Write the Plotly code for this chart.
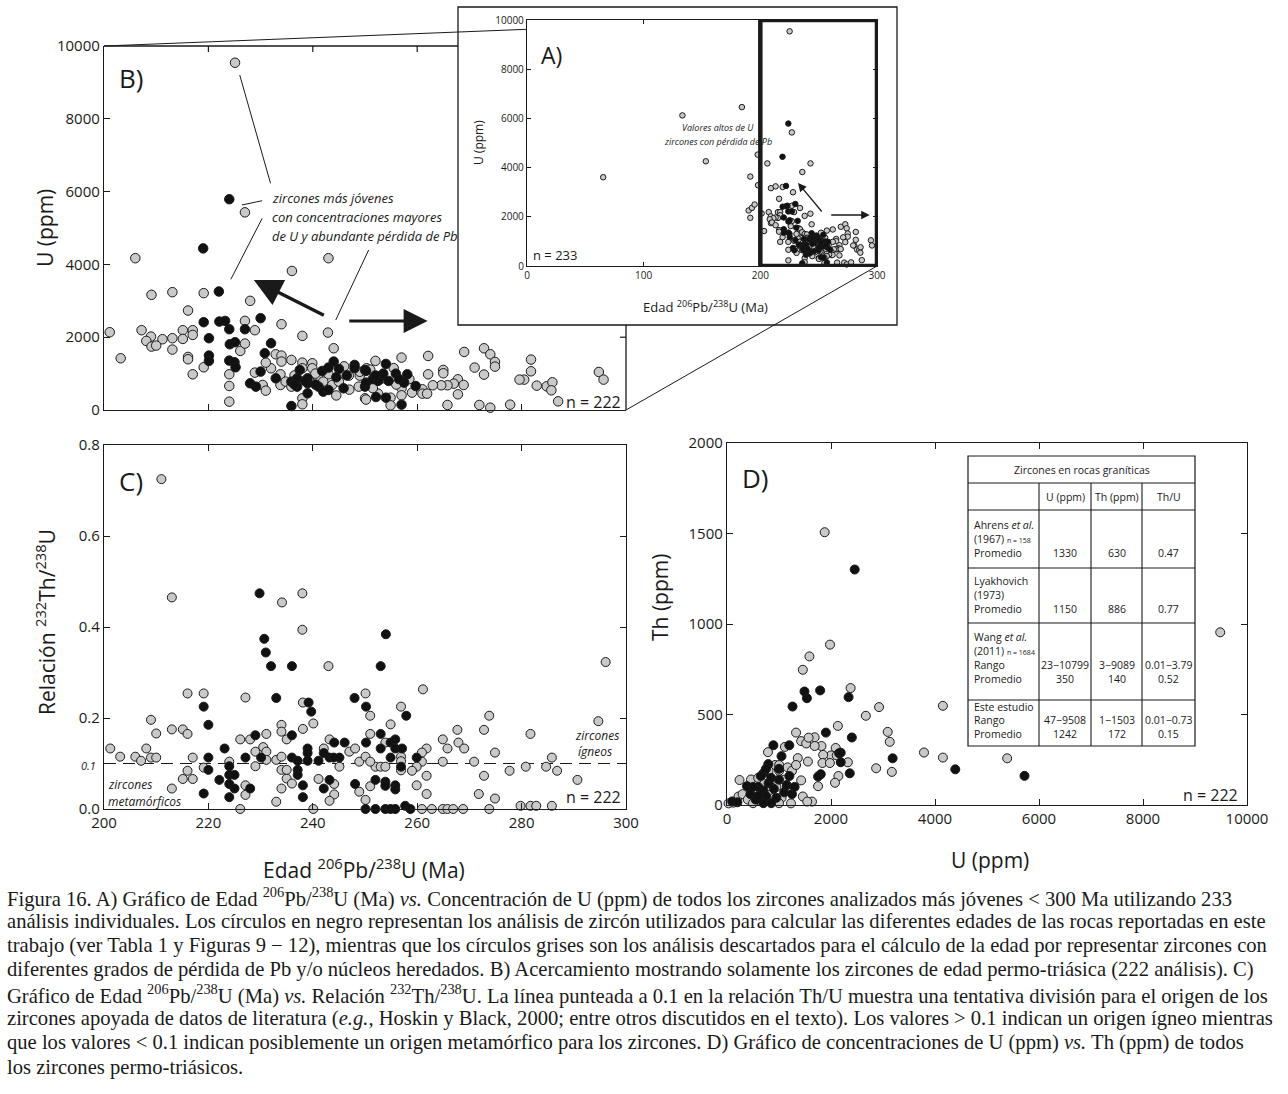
import plotly.graph_objects as go

W, H = 1288, 1094
def px(x): return x / W
def py(y): return 1 - y / H

# ---------------- DATA ----------------
# Panel B (and A): Edad 206Pb/238U (Ma) vs U (ppm)
b_gray_age = [225.1, 227.0, 206.0, 243.0, 236.0,
              209.1, 213.1, 219.1, 228.0, 216.1,
              201.1, 207.2, 215.1, 217.0, 217.0,
              215.1, 213.1, 209.0, 211.2, 208.1,
              209.1, 210.0, 213.1, 203.2, 216.1,
              216.1, 217.0, 219.1, 227.0, 228.9,
              234.0, 238.0, 242.9, 244.0, 226.1,
              227.0, 224.0, 224.0, 224.0, 232.9,
              234.0, 232.0, 234.0, 235.9, 238.0,
              239.9, 239.9, 238.0, 233.8, 228.9,
              231.0, 230.4, 231.0, 233.8, 234.8,
              235.9, 238.0, 238.0, 241.0, 243.0,
              243.7, 245.0, 246.9, 248.8, 249.0,
              250.0, 250.3,
              257.0, 262.1, 269.0, 272.8, 274.0,
              274.9, 274.9, 271.0, 272.8, 265.0,
              265.0, 262.1, 267.8, 267.0, 265.8,
              264.6, 263.0, 268.9, 267.8, 261.0,
              261.0, 261.9, 259.0, 257.0, 257.0,
              254.9, 254.9, 265.8, 271.9, 274.0,
              277.8, 281.8, 281.8, 280.5, 279.6,
              282.9, 284.8, 285.9, 285.7, 287.0,
              294.8, 295.7, 251.0, 250.2,
              247.0, 253.0, 255.5, 256.0, 252.5, 249.0, 246.0, 251.5, 244.5, 236.5,
              240.5, 242.0, 252.0, 258.5]
b_gray_u = [9540, 5430, 4170, 4170, 3820,
            3164, 3237, 3210, 2999, 2733,
            2137, 2192, 2192, 2192, 2063,
            1953, 1972, 2017, 1944, 1898,
            1742, 1770, 1660, 1421, 1458,
            1394, 981, 1174, 2448, 2192,
            2357, 2036, 2127, 1696, 1623,
            1825, 981, 660, 229, 1531,
            1495, 1146, 1330, 1375, 1302,
            1284, 1146, 1146, 981, 1027,
            1302, 688, 532, 688, 779,
            642, 321, 156, 889, 981,
            688, 779, 944, 642, 944,
            321, 1146,
            1440, 1485, 1595, 1696, 1531,
            1320, 1192, 1165, 972, 1100,
            1009, 981, 843, 724, 679,
            679, 679, 688, 431, 568,
            449, 449, 477, 596, 403,
            339, 128, 138, 138, 64,
            147, 1385, 1064, 835, 835,
            669, 651, 761, 541, 238,
            1045, 835, 1110, 286,
            560, 850, 1150, 700, 450, 1050, 1200, 600, 400, 950,
            1000, 780, 1350, 850]
b_black_age = [224.0, 219.0, 222.0,
               219.1, 222.1, 223.2, 224.0, 227.0,
               230.0, 220.1, 224.1, 225.1, 220.1,
               220.1, 224.0, 225.0, 225.2, 232.0,
               230.8, 230.0, 228.0, 229.1, 232.9,
               235.9, 237.0, 239.0, 237.5, 239.0,
               239.0, 237.0, 241.1, 241.8, 243.0,
               244.0, 245.0, 242.0, 243.0, 245.9,
               248.0, 248.0, 250.0, 250.0, 235.9,
               254.0, 253.0, 255.9, 258.1, 257.5,
               259.7, 252.1, 254.0, 257.0, 250.2,
               250.2,
               251.5, 252.5, 253.5, 254.5, 256.5, 252.0, 238.5, 240.5, 236.5, 246.5, 244.5]
b_black_u = [5790, 4440, 3255,
             2412, 2430, 2448, 2219, 2219,
             2522, 1972, 1806, 1862, 1495,
             1348, 1357, 1311, 1174, 1834,
             1559, 1055, 734, 642, 871,
             779, 871, 871, 1100, 734,
             459, 642, 642, 1073, 1165,
             1330, 1128, 504, 550, 596,
             1238, 1146, 1100, 642, 110,
             1266, 926, 999, 981, 752,
             660, 357, 339, 147, 1073,
             752,
             850, 800, 1000, 800, 850, 950, 800, 700, 700, 950, 900]

# Panel A: extra analyses (< 200 Ma) shown only in A
a_extra_age = [65.3, 133.2, 153.3, 184.2, 191.4, 190.0, 191.4, 192.8, 195.1, 198.0, 197.7]
a_extra_u = [3608, 6122, 4257, 6459, 3635, 2257, 1959, 2365, 2500, 3284, 4527]

# Panel C: Edad vs relacion 232Th/238U
c_gray_age = [211.0, 213.0, 238.0, 234.1, 238.0, 243.0, 296.1, 261.1,
              201.2, 203.1, 206.0, 207.1, 208.1, 209.0, 209.0, 210.0, 210.0, 213.0,
              215.1, 216.0, 216.0, 219.1, 217.0, 216.0, 215.1, 217.0, 213.0, 219.1,
              224.0, 226.1, 227.1, 228.0, 226.1, 227.1, 227.1, 229.0, 229.0, 230.5,
              231.1, 231.1, 231.1, 233.0, 234.0, 234.0, 234.0, 235.0, 234.0, 235.0,
              235.0, 236.0, 234.0, 233.0, 238.1, 238.1, 240.1, 240.1, 241.1, 243.2,
              242.1, 245.1, 244.1, 244.1, 243.2, 247.0, 248.1, 248.9, 248.9,
              250.1, 256.9, 251.0, 254.9, 251.0, 253.9, 250.1, 252.0, 253.0, 253.9,
              251.0, 256.9, 261.8, 260.9, 260.9, 259.9, 259.0, 261.8, 259.9, 261.8,
              264.9, 265.8, 264.9, 267.7, 267.9, 269.0, 270.9, 272.8, 273.8, 272.8,
              274.9, 271.8, 274.9, 277.7, 280.8, 281.7, 284.7, 285.8, 286.8, 290.7,
              294.7, 279.8, 281.7, 282.8, 285.8, 260.9, 262.8, 264.9, 265.8, 266.9,
              268.8, 273.8, 250.1, 251.0, 256.9, 256.9]
c_gray_ratio = [0.725, 0.465, 0.474, 0.454, 0.394, 0.314, 0.323, 0.263,
                0.133, 0.115, 0.115, 0.106, 0.133, 0.113, 0.196, 0.113, 0.166, 0.175,
                0.175, 0.165, 0.254, 0.254, 0.113, 0.084, 0.066, 0.066, 0.045, 0.091,
                0.104, 0.153, 0.245, 0.153, 0.0, 0.052, 0.031, 0.094, 0.126, 0.136,
                0.126, 0.165, 0.108, 0.108, 0.115, 0.185, 0.170, 0.153, 0.086, 0.067,
                0.086, 0.056, 0.045, 0.016, 0.234, 0.176, 0.188, 0.0, 0.066, 0.153,
                0.133, 0.093, 0.055, 0.032, 0.018, 0.126, 0.133, 0.104, 0.038,
                0.254, 0.225, 0.205, 0.186, 0.165, 0.146, 0.115, 0.093, 0.093, 0.093,
                0.104, 0.115, 0.133, 0.124, 0.104, 0.093, 0.084, 0.073, 0.052, 0.033,
                0.153, 0.133, 0.104, 0.174, 0.146, 0.133, 0.104, 0.174, 0.205, 0.073,
                0.124, 0.033, 0.023, 0.084, 0.093, 0.165, 0.093, 0.113, 0.084, 0.064,
                0.193, 0.007, 0.007, 0.007, 0.007, 0.0, 0.0, 0.0, 0.0, 0.0,
                0.0, 0.0, 0.02, 0.05, 0.105, 0.085]
c_black_age = [229.8, 230.7, 231.0, 232.0, 236.0, 254.0, 253.0, 233.0, 248.0,
               239.2, 239.7, 219.1, 220.0, 223.1, 220.0, 220.0, 222.1, 224.0, 224.0,
               225.0, 224.0, 225.0, 224.0, 219.1, 227.1, 228.0, 229.0, 230.1, 236.0,
               236.0, 237.1, 237.1, 237.1, 238.1, 238.1, 239.0, 239.0, 239.0, 241.1,
               242.1, 243.2, 244.1, 245.1, 246.1, 243.2, 242.1, 250.2, 250.2, 248.1,
               257.9, 253.0, 253.0, 254.9, 255.8, 255.8, 257.1, 254.9, 256.9, 259.9,
               252.0, 253.9, 253.9, 255.8, 255.8, 250.1, 252.0, 253.9, 254.9, 255.8,
               257.7, 258.7, 244.0]
c_black_ratio = [0.474, 0.374, 0.344, 0.314, 0.314, 0.384, 0.314, 0.244, 0.244,
                 0.234, 0.214, 0.225, 0.185, 0.133, 0.113, 0.086, 0.064, 0.094, 0.075,
                 0.075, 0.055, 0.045, 0.026, 0.034, 0.113, 0.045, 0.162, 0.113, 0.162,
                 0.113, 0.106, 0.086, 0.075, 0.052, 0.026, 0.133, 0.123, 0.106, 0.106,
                 0.123, 0.113, 0.146, 0.113, 0.146, 0.064, 0.045, 0.225, 0.146, 0.055,
                 0.205, 0.165, 0.133, 0.146, 0.153, 0.133, 0.133, 0.113, 0.093, 0.113,
                 0.064, 0.060, 0.051, 0.052, 0.043, 0.0, 0.0, 0.0, 0.0, 0.0,
                 0.007, 0.0, 0.113]

# Panel D: U (ppm) vs Th (ppm)
d_gray_u = [1878, 1981, 1585, 1458, 2377, 2924, 2670, 2132, 3090, 3130,
            3788, 4152, 4152, 5388, 2868, 3170, 9485, 1328, 1426, 1523,
            1686, 1816, 1686, 1569, 2090, 1999, 2110, 2324, 1849, 1836,
            1979, 2142, 2077, 1751, 1361, 1556, 1113, 788, 924, 1003,
            1165, 1250, 1426, 1458, 1634, 1543, 1230, 241, 462, 221,
            30, 124, 1328, 1003, 300, 400, 550, 650, 700, 850,
            950, 1050, 1100, 600, 800, 900, 1150, 500, 750, 1000]
d_gray_th = [1507, 886, 821, 747, 646, 541, 493, 437, 404, 349,
             290, 262, 548, 258, 203, 183, 954, 400, 353, 340,
             374, 326, 326, 372, 315, 274, 274, 236, 277, 232,
             232, 160, 123, 104, 259, 240, 321, 292, 221, 221,
             208, 189, 136, 47, 19, 19, 9, 138, 141, 47,
             9, 13, 221, 189, 60, 30, 80, 20, 120, 60,
             100, 40, 140, 150, 190, 40, 90, 10, 30, 10]
d_black_u = [2456, 1490, 1537, 1791, 2338, 1260, 1902, 2401, 3185, 4390,
             5721, 2155, 2361, 2187, 2187, 1803, 1751, 892, 1198, 1048,
             794, 384, 710, 100, 200, 450, 550, 600, 650, 700,
             750, 800, 850, 900, 950, 1000, 1100, 1150, 1200, 1250,
             700, 850, 600, 1000, 1300, 500, 750]
d_black_th = [1301, 627, 590, 633, 596, 544, 400, 373, 258, 197,
              161, 286, 175, 289, 236, 170, 157, 330, 330, 270,
              226, 104, 179, 20, 15, 60, 30, 100, 160, 80,
              50, 120, 150, 90, 40, 140, 70, 110, 160, 60,
              10, 10, 50, 200, 100, 100, 200]

# Table inset (panel D)
table_cols = ["U (ppm)", "Th (ppm)", "Th/U"]

# tick labels
u_ticks = [0, 2000, 4000, 6000, 8000, 10000]
u_ticktext = ["0", "2000", "4000", "6000", "8000", "10000"]

# ---------------- FIGURE ----------------
INK = "#1a1a1a"
GRAY = "#c9c9c9"
FONT = "Open Sans"

fig = go.Figure()

def mk(size, fill):
    return dict(size=size, color=fill, line=dict(color=INK, width=1))

def scatter(x, y, xa, ya, size, fill):
    fig.add_trace(go.Scatter(x=x, y=y, mode="markers", marker=mk(size, fill),
                             xaxis=xa, yaxis=ya, cliponaxis=False, hoverinfo="skip"))

# B
scatter(b_gray_age, b_gray_u, "x", "y", 9.5, GRAY)
scatter(b_black_age, b_black_u, "x", "y", 9.5, "#111111")
# C
scatter(c_gray_age, c_gray_ratio, "x3", "y3", 9, GRAY)
scatter(c_black_age, c_black_ratio, "x3", "y3", 9, "#111111")
# D
scatter(d_gray_u, d_gray_th, "x4", "y4", 9, GRAY)
scatter(d_black_u, d_black_th, "x4", "y4", 9, "#111111")
# A
scatter(a_extra_age + b_gray_age, a_extra_u + b_gray_u, "x5", "y5", 5.5, GRAY)
scatter(b_black_age, b_black_u, "x5", "y5", 5.5, "#111111")

ax_common = dict(showline=True, linecolor=INK, linewidth=1.3, ticks="inside", ticklen=6,
                 tickwidth=1.2, tickcolor=INK, showgrid=False, zeroline=False, automargin=False,
                 tickfont=dict(size=15, family=FONT, color=INK))

fig.update_layout(
    width=W, height=H, margin=dict(l=0, r=0, t=0, b=0, pad=0, autoexpand=False),
    paper_bgcolor="white", plot_bgcolor="rgba(0,0,0,0)", showlegend=False,
    font=dict(family=FONT, color=INK),
    xaxis=dict(ax_common, domain=[px(104), px(626)], range=[200, 300], anchor="y",
               tickvals=[220, 240, 260, 280], showticklabels=False),
    yaxis=dict(ax_common, domain=[py(410), py(46)], range=[0, 10000], anchor="x",
               tickvals=u_ticks, ticktext=u_ticktext),
    xaxis3=dict(ax_common, domain=[px(104), px(626)], range=[200, 300], anchor="y3",
                tickvals=[200, 220, 240, 260, 280, 300], mirror="ticks"),
    yaxis3=dict(ax_common, domain=[py(809), py(445)], range=[0, 0.8], anchor="x3",
                tickvals=[0, 0.2, 0.4, 0.6, 0.8], ticktext=["0.0", "0.2", "0.4", "0.6", "0.8"],
                mirror="ticks"),
    xaxis4=dict(ax_common, domain=[px(727), px(1247)], range=[0, 10000], anchor="y4",
                tickvals=u_ticks, ticktext=u_ticktext, mirror="ticks"),
    yaxis4=dict(ax_common, domain=[py(805), py(443)], range=[0, 2000], anchor="x4",
                tickvals=[0, 500, 1000, 1500, 2000], mirror="ticks"),
    xaxis5=dict(ax_common, domain=[px(527), px(877)], range=[0, 300], anchor="y5",
                tickvals=[0, 100, 200, 300], ticklen=4, mirror="ticks",
                tickfont=dict(size=10, family=FONT, color=INK)),
    yaxis5=dict(ax_common, domain=[py(266), py(20)], range=[0, 10000], anchor="x5",
                tickvals=u_ticks, ticktext=u_ticktext, ticklen=4, mirror="ticks",
                tickfont=dict(size=10, family=FONT, color=INK)),
)

shapes = []
def pline(x0, y0, x1, y1, w=1.2, dash=None):
    shapes.append(dict(type="line", xref="paper", yref="paper", x0=px(x0), y0=py(y0),
                       x1=px(x1), y1=py(y1), line=dict(color=INK, width=w, dash=dash)))

# B frame top/right (partly hidden behind A)
pline(104, 46, 458, 46, 1.3)
pline(626, 325, 626, 410, 1.3)
for t in [220, 240, 260]:
    shapes.append(dict(type="line", xref="x", yref="paper", x0=t, x1=t, y0=py(46), y1=py(52),
                       line=dict(color=INK, width=1.2)))
shapes.append(dict(type="line", xref="paper", yref="y", x0=px(626), x1=px(620), y0=2000, y1=2000,
                   line=dict(color=INK, width=1.2)))
# A box
shapes.append(dict(type="rect", xref="paper", yref="paper", x0=px(458), x1=px(897), y0=py(325), y1=py(7),
                   line=dict(color=INK, width=1.3)))
# connectors
pline(104, 46, 527, 29.3, 1.0)
pline(626, 410, 877, 266, 1.0)
# thick zoom rectangle in A
shapes.append(dict(type="rect", xref="x5", yref="y5", x0=200, x1=300, y0=0, y1=10000,
                   line=dict(color=INK, width=4.5), layer="above"))
# leader lines B
for (x0, y0, x1, y1) in [(226.0, 9203, 231.9, 6228), (226.4, 5632, 230.3, 5750),
                         (230.3, 5266, 224.3, 3591), (250.7, 4396, 244.4, 2473)]:
    shapes.append(dict(type="line", xref="x", yref="y", x0=x0, y0=y0, x1=x1, y1=y1,
                       line=dict(color=INK, width=1)))
# dashed 0.1 line C
shapes.append(dict(type="line", xref="x3", yref="y3", x0=200, x1=300, y0=0.1, y1=0.1,
                   line=dict(color=INK, width=1.2, dash="12px,7px"), layer="below"))
# table lines
TL, TR, TT, TB = 968, 1195, 456, 746
shapes.append(dict(type="rect", xref="paper", yref="paper", x0=px(TL), x1=px(TR), y0=py(TB), y1=py(TT),
                   line=dict(color=INK, width=1.2), fillcolor="white", layer="below"))
for yy in [483, 510, 568, 623, 700]:
    pline(TL, yy, TR, yy, 1.1)
for xx in [1039, 1091, 1142]:
    pline(xx, 483, xx, TB, 1.1)
fig.update_layout(shapes=shapes)

ann = []
def txt(x, y, s, size, xanchor="center", angle=0, family=FONT, yanchor="middle"):
    ann.append(dict(x=px(x), y=py(y), xref="paper", yref="paper", text=s, showarrow=False,
                    xanchor=xanchor, yanchor=yanchor, textangle=angle,
                    font=dict(size=size, family=family, color=INK)))

# panel labels
txt(117, 78, "B)", 26, "left")
txt(539, 55, "A)", 23, "left")
txt(117, 481, "C)", 26, "left")
txt(740, 478, "D)", 26, "left")
# axis titles
txt(45, 228, "U (ppm)", 21, angle=-90)
txt(45, 622, "Relación <sup>232</sup>Th/<sup>238</sup>U", 21, angle=-90)
txt(364, 868, "Edad <sup>206</sup>Pb/<sup>238</sup>U (Ma)", 21)
txt(660, 598, "Th (ppm)", 21, angle=-90)
txt(990, 860, "U (ppm)", 21)
txt(478, 143, "U (ppm)", 12, angle=-90)
txt(705, 307, "Edad <sup>206</sup>Pb/<sup>238</sup>U (Ma)", 13)
# n labels
txt(623, 402, "n = 222", 16, "right")
txt(623, 797, "n = 222", 16, "right")
txt(1240, 795, "n = 222", 16, "right")
txt(531, 255, "n = 233", 13, "left")
# italic notes
txt(270, 198, "<i>zircones más jóvenes</i>", 13, "left")
txt(270, 217, "<i>con concentraciones mayores</i>", 13, "left")
txt(270, 236, "<i>de U y abundante pérdida de Pb</i>", 13, "left")
txt(718, 128, "<i>Valores altos de U</i>", 9)
txt(718, 142, "<i>zircones con pérdida de Pb</i>", 9)
txt(106, 784, "<i>zircones</i>", 12, "left")
txt(106, 801, "<i>metamórficos</i>", 12, "left")
txt(573, 735, "<i>zircones</i>", 12, "left")
txt(576, 751, "<i>ígneos</i>", 12, "left")
txt(98, 765, "<i>0.1</i>", 11, "right")

# table text
TF = 10.5
txt(1082, 470, "Zircones en rocas graníticas", TF)
for cx, s in zip([1065, 1116.5, 1168.5], table_cols):
    txt(cx, 497, s, TF)
rows = [
    [(525, "Ahrens <i>et al.</i>"), (539, "(1967) <span style='font-size:7px'>n = 158</span>"), (553, "Promedio")],
    [(581, "Lyakhovich"), (595, "(1973)"), (609, "Promedio")],
    [(637, "Wang <i>et al.</i>"), (651, "(2011) <span style='font-size:7px'>n = 1684</span>"), (665, "Rango"), (679, "Promedio")],
    [(707, "Este estudio"), (720, "Rango"), (734, "Promedio")],
]
for r in rows:
    for yy, s in r:
        txt(972, yy, s, TF, "left")
vals = [
    (553, ["1330", "630", "0.47"]),
    (609, ["1150", "886", "0.77"]),
    (665, ["23−10799", "3−9089", "0.01−3.79"]),
    (679, ["350", "140", "0.52"]),
    (720, ["47−9508", "1−1503", "0.01−0.73"]),
    (734, ["1242", "172", "0.15"]),
]
for yy, vv in vals:
    for cx, s in zip([1065, 1116.5, 1168.5], vv):
        txt(cx, yy, s, TF)

# arrows
def arrow(x, y, ax, ay, xr, yr, w, size):
    ann.append(dict(x=x, y=y, ax=ax, ay=ay, xref=xr, yref=yr, axref=xr, ayref=yr, text="",
                    showarrow=True, arrowhead=2, arrowsize=size, arrowwidth=w, arrowcolor=INK))
arrow(228.7, 3571, 242.4, 2582, "x", "y", 3.5, 1.6)
arrow(262.0, 2445, 246.7, 2445, "x", "y", 3.0, 1.6)
arrow(232.3, 3374, 253.7, 2154, "x5", "y5", 1.3, 1.3)
arrow(293.7, 2073, 259.5, 2073, "x5", "y5", 1.3, 1.3)

# caption
CF = "Liberation Serif"
cap = [
    "Figura 16. A) Gráfico de Edad <sup>206</sup>Pb/<sup>238</sup>U (Ma) <i>vs.</i> Concentración de U (ppm) de todos los zircones analizados más jóvenes &lt; 300 Ma utilizando 233",
    "análisis individuales. Los círculos en negro representan los análisis de zircón utilizados para calcular las diferentes edades de las rocas reportadas en este",
    "trabajo (ver Tabla 1 y Figuras 9 − 12), mientras que los círculos grises son los análisis descartados para el cálculo de la edad por representar zircones con",
    "diferentes grados de pérdida de Pb y/o núcleos heredados. B) Acercamiento mostrando solamente los zircones de edad permo-triásica (222 análisis). C)",
    "Gráfico de Edad <sup>206</sup>Pb/<sup>238</sup>U (Ma) <i>vs.</i> Relación <sup>232</sup>Th/<sup>238</sup>U. La línea punteada a 0.1 en la relación Th/U muestra una tentativa división para el origen de los",
    "zircones apoyada de datos de literatura (<i>e.g.</i>, Hoskin y Black, 2000; entre otros discutidos en el texto). Los valores &gt; 0.1 indican un origen ígneo mientras",
    "que los valores &lt; 0.1 indican posiblemente un origen metamórfico para los zircones. D) Gráfico de concentraciones de U (ppm) <i>vs.</i> Th (ppm) de todos",
    "los zircones permo-triásicos.",
]
for i, s in enumerate(cap):
    txt(5, 897 + 24.3 * i, s, 20.6, "left", family=CF)

fig.update_layout(annotations=ann)
fig.write_html("out.html", config={"displayModeBar": False},
               post_script="document.body.style.margin='0';document.body.style.overflow='hidden';")
